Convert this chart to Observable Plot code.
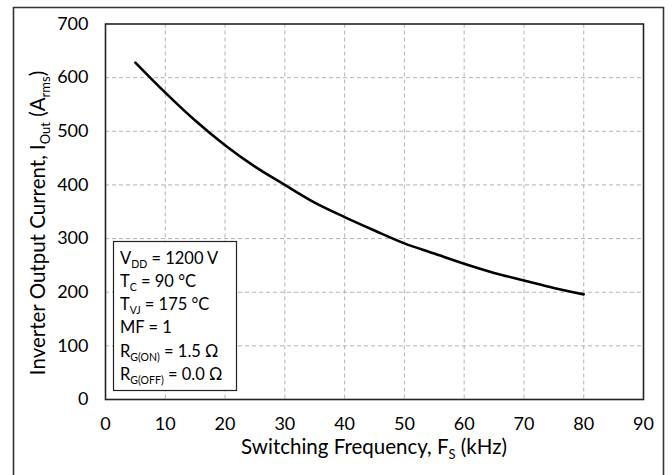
<!DOCTYPE html>
<html>
<head>
<meta charset="utf-8">
<script src="https://cdn.jsdelivr.net/npm/d3@7"></script>
<script src="https://cdn.jsdelivr.net/npm/@observablehq/plot@0.6"></script>
<style>
  html, body { margin: 0; padding: 0; background: #fff; }
  #chart { width: 672px; height: 475px; overflow: hidden; }
  svg { font-family: Lato, "Open Sans", sans-serif; }
</style>
</head>
<body>
<div id="chart"></div>
<script>
// Switching frequency (kHz)
const freq = [5, 10, 15, 20, 25, 30, 35, 40, 45, 50, 55, 60, 65, 70, 75, 80];
// Inverter output current (A rms)
const current = [628, 572, 520, 474, 434, 400, 367, 340, 315, 291, 272, 253, 236, 222, 208, 196];
const xTicks = [0, 10, 20, 30, 40, 50, 60, 70, 80, 90];
const yTicks = [0, 100, 200, 300, 400, 500, 600, 700];
// Conditions box lines: [main, subscript, rest]
const conditions = [
  ["V", "DD", " = 1200 V"],
  ["T", "C", " = 90 °C"],
  ["T", "VJ", " = 175 °C"],
  ["MF = 1", "", ""],
  ["R", "G(ON)", " = 1.5 Ω"],
  ["R", "G(OFF)", " = 0.0 Ω"]
];

const data = freq.map((f, i) => ({f, i: current[i]}));

const W = 672, H = 475;
const mL = 105, mR = 29, mT = 23.5, mB = 76;

const plot = Plot.plot({
  width: W,
  height: H,
  marginLeft: mL,
  marginRight: mR,
  marginTop: mT,
  marginBottom: mB,
  style: {fontFamily: "Lato, 'Open Sans', sans-serif", fontSize: "18px", color: "#000", background: "#fff"},
  x: {domain: [0, 90], ticks: xTicks, label: null},
  y: {domain: [0, 700], ticks: yTicks, label: null},
  marks: [
    Plot.gridX(xTicks.slice(1, -1), {stroke: "#b3b3b3", strokeOpacity: 1, strokeDasharray: "4,3", strokeWidth: 1}),
    Plot.gridY(yTicks.slice(1, -1), {stroke: "#b3b3b3", strokeOpacity: 1, strokeDasharray: "4,3", strokeWidth: 1}),
    Plot.axisX(xTicks, {tickSize: 0, tickPadding: 18, fontSize: 18, fill: "#000"}),
    Plot.axisY(yTicks, {tickSize: 0, tickPadding: 17, fontSize: 18, fill: "#000"}),
    Plot.frame({stroke: "#222", strokeWidth: 1.6}),
    Plot.line(data, {x: "f", y: "i", stroke: "#000", strokeWidth: 2.6, curve: "catmull-rom"})
  ]
});

document.getElementById("chart").appendChild(plot);

const svg = d3.select(plot);

// outer border (bottom edge falls outside the picture)
svg.append("path")
  .attr("d", `M13.5,${H + 5} V7.5 H663.5 V${H + 5}`)
  .attr("fill", "none").attr("stroke", "#333").attr("stroke-width", 1.6);

// x-axis title
const xt = svg.append("text")
  .attr("x", 374).attr("y", 454)
  .attr("text-anchor", "middle").attr("font-size", 20.5).attr("fill", "#000");
xt.append("tspan").text("Switching Frequency, F");
xt.append("tspan").attr("font-size", 13).attr("dy", 5).text("S");
xt.append("tspan").attr("dy", -5).text(" (kHz)");

// y-axis title
const yt = svg.append("text")
  .attr("transform", `translate(45,223) rotate(-90)`)
  .attr("text-anchor", "middle").attr("font-size", 20.5).attr("fill", "#000");
yt.append("tspan").text("Inverter Output Current, I");
yt.append("tspan").attr("font-size", 13).attr("dy", 5).text("Out");
yt.append("tspan").attr("dy", -5).text(" (A");
yt.append("tspan").attr("font-size", 13).attr("dy", 5).text("rms");
yt.append("tspan").attr("dy", -5).text(")");

// conditions box
const bx = 113.5, by = 241.5, bw = 123, bh = 149;
svg.append("rect").attr("x", bx).attr("y", by).attr("width", bw).attr("height", bh)
  .attr("fill", "#fff").attr("stroke", "#222").attr("stroke-width", 1.2);
conditions.forEach((c, k) => {
  const t = svg.append("text").attr("x", bx + 6.5).attr("y", by + 22 + k * 23.3)
    .attr("text-anchor", "start").attr("font-size", 16.5).attr("fill", "#000");
  t.append("tspan").text(c[0]);
  if (c[1]) {
    t.append("tspan").attr("font-size", 10.5).attr("dy", 4).text(c[1]);
    t.append("tspan").attr("dy", -4).text(c[2]);
  }
});
</script>
</body>
</html>
